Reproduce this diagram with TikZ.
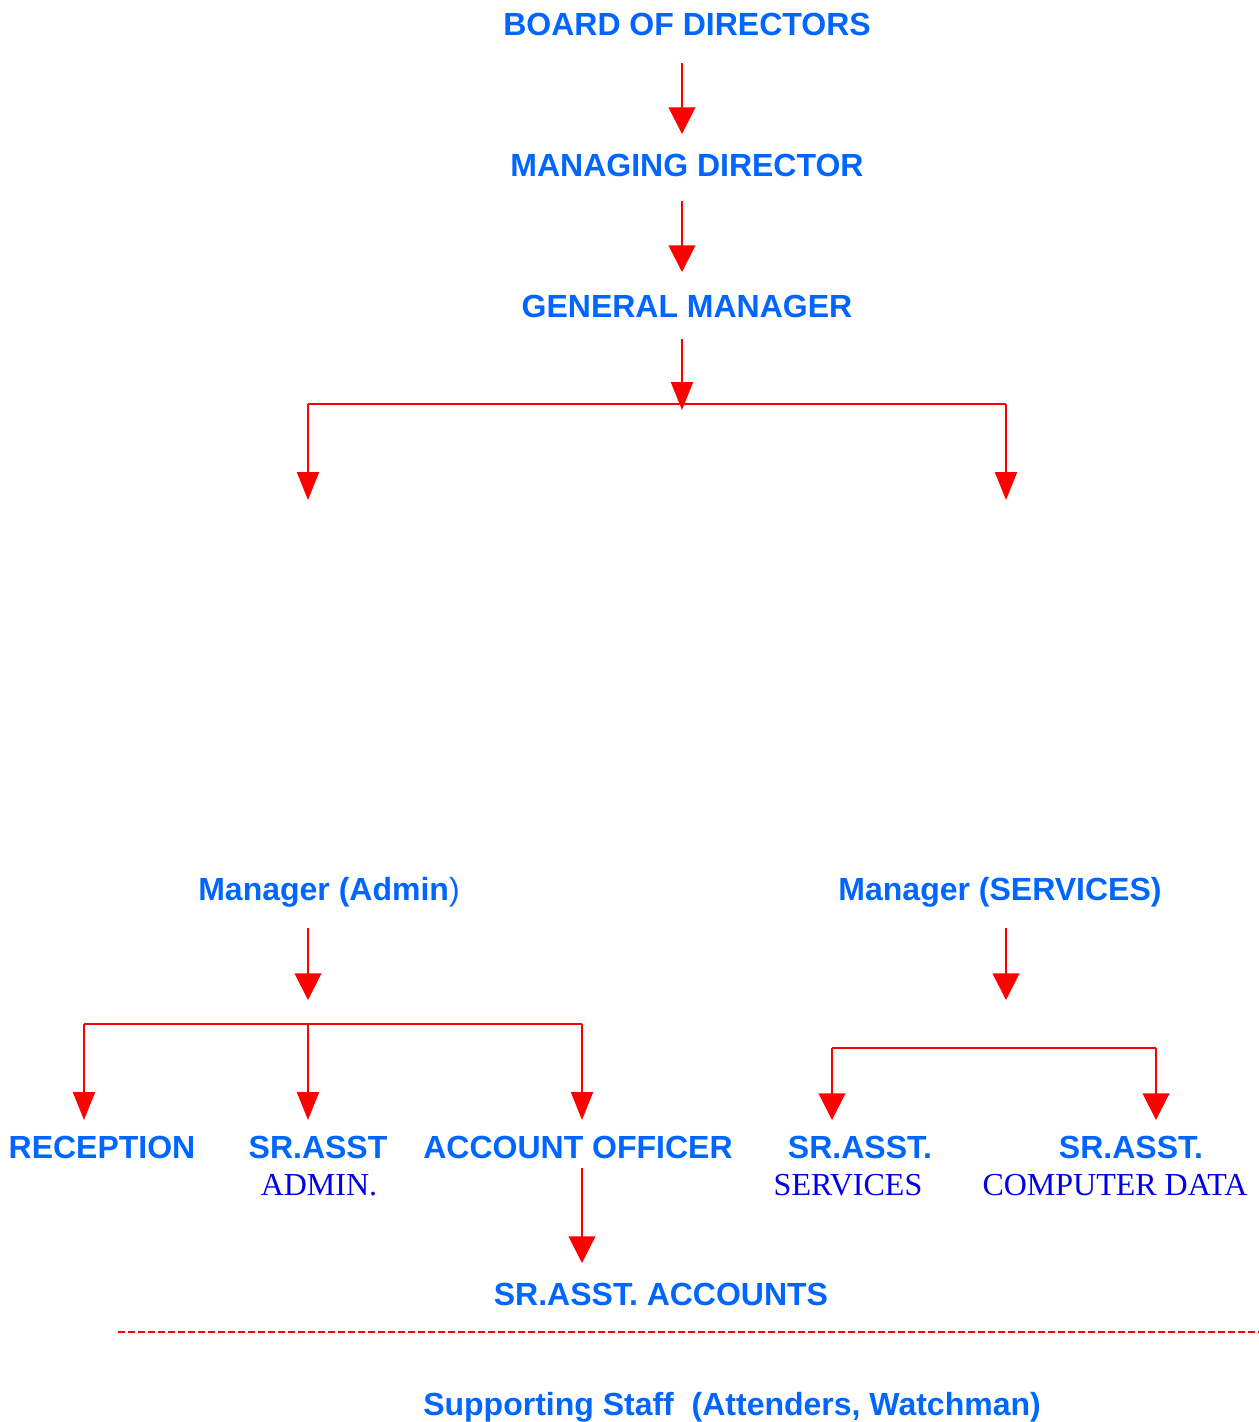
\documentclass[tikz,border=0pt]{standalone}
\usepackage{fontspec}
\setmainfont{Liberation Sans}
\newfontfamily\serifface{Liberation Serif}
\usetikzlibrary{arrows.meta}
\definecolor{txtblue}{RGB}{0,102,255}
\definecolor{serblue}{RGB}{0,0,230}
\definecolor{arrred}{RGB}{255,0,0}
\begin{document}
\begin{tikzpicture}[x=0.75pt,y=-0.75pt,
  lbl/.style={anchor=base,inner sep=0pt,text=txtblue,font=\fontsize{24pt}{28pt}\selectfont\bfseries},
  sub/.style={anchor=base,inner sep=0pt,text=serblue,font=\fontsize{24pt}{28pt}\selectfont\serifface},
  arr/.style={draw=arrred,line width=1.5pt,-{Triangle[width=20pt,length=20pt]}},
  narr/.style={draw=arrred,line width=1.5pt,-{Triangle[width=16.5pt,length=21pt]}},
  ln/.style={draw=arrred,line width=1.5pt}]
\useasboundingbox (0,0) rectangle (1259,1422);
% nodes
\node[lbl] (bod) at (687,35) {BOARD OF DIRECTORS};
\node[lbl] (md) at (687,176) {MANAGING DIRECTOR};
\node[lbl] (gm) at (687,317) {GENERAL MANAGER};
\node[lbl] (madmin) at (329,900) {Manager (Admin\textmd{)}};
\node[lbl] (mserv) at (1000,900) {Manager (SERVICES)};
\node[lbl] (recep) at (102,1158) {RECEPTION};
\node[lbl] (sradm) at (318,1158) {SR.ASST};
\node[sub] (sradm2) at (319,1195) {ADMIN.};
\node[lbl] (accoff) at (578,1158) {ACCOUNT OFFICER};
\node[lbl] (srserv) at (860,1158) {SR.ASST.};
\node[sub] (srserv2) at (848,1195) {SERVICES};
\node[lbl] (srcomp) at (1131,1158) {SR.ASST.};
\node[sub] (srcomp2) at (1115,1195) {COMPUTER DATA};
\node[lbl] (sracc) at (661,1305) {SR.ASST. ACCOUNTS};
\node[lbl] (staff) at (732,1415) {Supporting Staff\ \ (Attenders, Watchman)};
% coordinates
\coordinate (bodout) at (682,63);
\coordinate (mdin) at (682,134);
\coordinate (mdout) at (682,201);
\coordinate (gmin) at (682,272);
\coordinate (gmout) at (682,339);
\coordinate (gmsplit) at (682,410);
\coordinate (barL) at (308,404);
\coordinate (barR) at (1006,404);
\coordinate (adminin) at (308,500);
\coordinate (servin) at (1006,500);
\coordinate (admout) at (308,928);
\coordinate (admsplit) at (308,1000);
\coordinate (servout) at (1006,928);
\coordinate (servsplit) at (1006,1000);
\coordinate (abL) at (84,1024);
\coordinate (abM) at (308,1024);
\coordinate (abR) at (582,1024);
\coordinate (recin) at (84,1120);
\coordinate (sradmin) at (308,1120);
\coordinate (accin) at (582,1120);
\coordinate (sbL) at (832,1048);
\coordinate (sbR) at (1156,1048);
\coordinate (srservin) at (832,1120);
\coordinate (srcompin) at (1156,1120);
\coordinate (accout) at (582,1168);
\coordinate (sraccin) at (582,1263);
\coordinate (dashL) at (118,1332);
\coordinate (dashR) at (1259,1332);
% connectors
\draw[arr] (bodout) -- (mdin);
\draw[arr] (mdout) -- (gmin);
\draw[ln] (barL) -- (barR);
\draw[narr] (gmout) -- (gmsplit);
\draw[narr] (barL) -- (adminin);
\draw[narr] (barR) -- (servin);
\draw[arr] (admout) -- (admsplit);
\draw[arr] (servout) -- (servsplit);
\draw[ln] (abL) -- (abR);
\draw[narr] (abL) -- (recin);
\draw[narr] (abM) -- (sradmin);
\draw[narr] (abR) -- (accin);
\draw[ln] (sbL) -- (sbR);
\draw[arr] (sbL) -- (srservin);
\draw[arr] (sbR) -- (srcompin);
\draw[arr] (accout) -- (sraccin);
\draw[draw=arrred,line width=1.6pt,dash pattern=on 5.5pt off 2pt] (dashL) -- (dashR);
\end{tikzpicture}
\end{document}
